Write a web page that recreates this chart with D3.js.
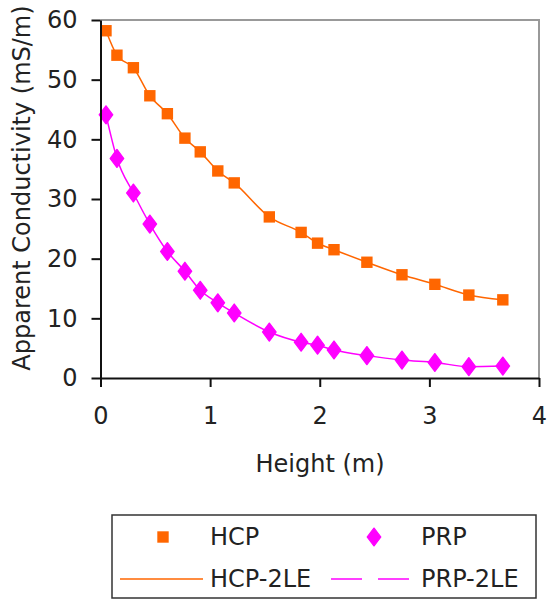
<!DOCTYPE html>
<html>
<head>
<meta charset="utf-8">
<script src="https://cdn.jsdelivr.net/npm/d3@7"></script>
<style>
  body { margin: 0; background: #fff; }
  text { font-family: "DejaVu Sans", sans-serif; font-size: 24px; fill: #222; }
</style>
</head>
<body>
<script>
// heights (m) where both coil configurations were read
var heights = [0.05, 0.15, 0.3, 0.45, 0.61, 0.77, 0.91, 1.07, 1.22, 1.54, 1.83, 1.98, 2.13, 2.43, 2.75, 3.05, 3.36, 3.67]
var hcp = [58.2, 54.1, 52.0, 47.3, 44.3, 40.2, 37.9, 34.7, 32.7, 27.0, 24.4, 22.6, 21.5, 19.4, 17.3, 15.7, 13.9, 13.1]
var prp = [44.1, 36.8, 31.0, 25.8, 21.2, 17.9, 14.7, 12.6, 10.9, 7.7, 6.0, 5.5, 4.7, 3.75, 3.0, 2.6, 1.9, 2.0]
var xTicks = [0, 1, 2, 3, 4]
var yTicks = [0, 10, 20, 30, 40, 50, 60]

var orange = "#ff6600", magenta = "#ff00ff"

var svg = d3.select("body").append("svg")
    .attr("width", 547)
    .attr("height", 600)

var x = d3.scaleLinear().domain([0, 4]).range([100.5, 539])
var y = d3.scaleLinear().domain([0, 60]).range([378, 20])

var hcpData = heights.map((h, i) => ({h: h, v: hcp[i]}))
var prpData = heights.map((h, i) => ({h: h, v: prp[i]}))

// plot frame (grey top/right)
svg.append("path")
    .attr("d", "M" + x(0) + "," + y(60) + "H" + x(4) + "V" + y(0))
    .attr("fill", "none")
    .attr("stroke", "#999")
    .attr("stroke-width", 2)

var line = d3.line().x(d => x(d.h)).y(d => y(d.v)).curve(d3.curveMonotoneX)

svg.append("path").datum(hcpData)
    .attr("d", line)
    .attr("fill", "none").attr("stroke", orange).attr("stroke-width", 1.5)
svg.append("path").datum(prpData)
    .attr("d", line)
    .attr("fill", "none").attr("stroke", magenta).attr("stroke-width", 1.5)

var sq = d3.symbol().type(d3.symbolSquare).size(130)
var dia = d3.symbol().type(d3.symbolDiamond).size(95)

svg.selectAll(".hcp").data(hcpData).enter().append("path")
    .attr("class", "hcp")
    .attr("d", sq)
    .attr("transform", d => "translate(" + x(d.h) + "," + y(d.v) + ")")
    .attr("fill", orange)
svg.selectAll(".prp").data(prpData).enter().append("path")
    .attr("class", "prp")
    .attr("d", dia)
    .attr("transform", d => "translate(" + x(d.h) + "," + y(d.v) + ") scale(1.3,1)")
    .attr("fill", magenta)
    .attr("stroke", magenta).attr("stroke-width", 1).attr("stroke-linejoin", "round")

// axes
svg.append("g")
    .attr("transform", "translate(0," + y(0) + ")")
    .call(d3.axisBottom(x).tickValues(xTicks).tickFormat(d3.format("d")).tickSize(9).tickPadding(20).tickSizeOuter(0))
svg.append("g")
    .attr("transform", "translate(" + x(0) + ",0)")
    .call(d3.axisLeft(y).tickValues(yTicks).tickFormat(d3.format("d")).tickSize(9).tickPadding(14).tickSizeOuter(0))
svg.selectAll(".domain, .tick line").attr("stroke", "#111").attr("stroke-width", 2)
svg.selectAll(".tick text").style("font-size", "24px").style("font-family", "DejaVu Sans").attr("fill", "#222")

svg.append("text")
    .attr("x", 320).attr("y", 472)
    .attr("text-anchor", "middle")
    .text("Height (m)")
svg.append("text")
    .attr("transform", "translate(30,188) rotate(-90)")
    .attr("text-anchor", "middle")
    .text("Apparent Conductivity (mS/m)")

// legend
var lg = svg.append("g")
lg.append("rect")
    .attr("x", 112).attr("y", 515).attr("width", 424).attr("height", 83)
    .attr("fill", "#fff").attr("stroke", "#333").attr("stroke-width", 1.5)
lg.append("path").attr("d", sq).attr("transform", "translate(163,537)").attr("fill", orange)
lg.append("text").attr("x", 210).attr("y", 545).text("HCP")
lg.append("path").attr("d", dia).attr("transform", "translate(374,537) scale(1.3,1)")
    .attr("fill", magenta).attr("stroke", magenta).attr("stroke-width", 1).attr("stroke-linejoin", "round")
lg.append("text").attr("x", 421).attr("y", 545).text("PRP")
lg.append("line").attr("x1", 120).attr("x2", 203).attr("y1", 579).attr("y2", 579)
    .attr("stroke", orange).attr("stroke-width", 1.5)
lg.append("text").attr("x", 210).attr("y", 587).text("HCP-2LE")
lg.append("line").attr("x1", 331).attr("x2", 413).attr("y1", 579).attr("y2", 579)
    .attr("stroke", magenta).attr("stroke-width", 1.5).attr("stroke-dasharray", "31,16")
lg.append("text").attr("x", 421).attr("y", 587).text("PRP-2LE")
</script>
</body>
</html>
